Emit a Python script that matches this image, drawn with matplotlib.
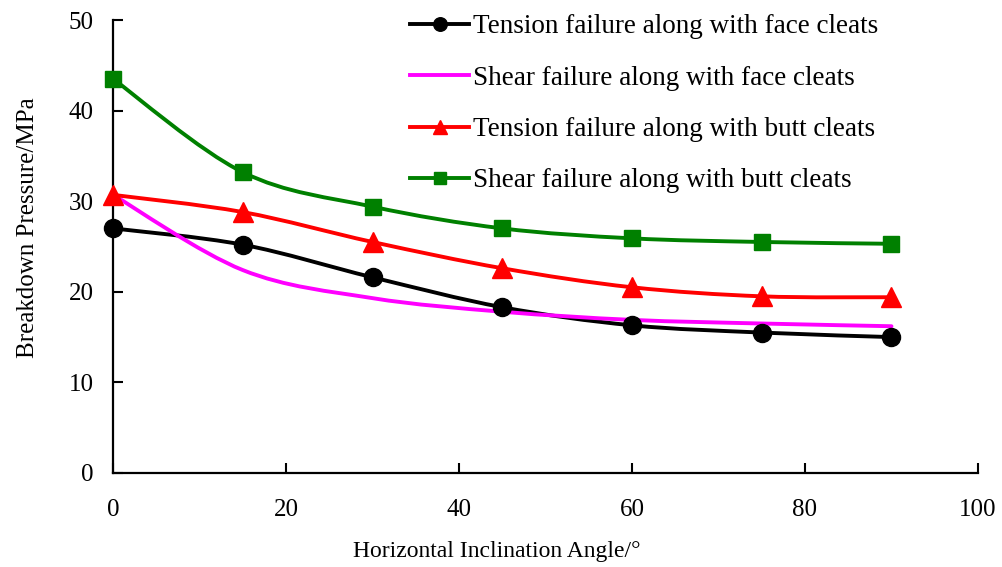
import matplotlib
matplotlib.use("Agg")
import matplotlib.pyplot as plt
from matplotlib.path import Path
from matplotlib.patches import PathPatch
from matplotlib.lines import Line2D

# Horizontal inclination angle (deg)
angle = [0, 15, 30, 45, 60, 75, 90]

# Breakdown pressure (MPa)
tension_face = [27.0, 25.2, 21.6, 18.3, 16.3, 15.5, 15.0]
shear_face = [30.7, 22.4, 19.3, 17.8, 16.9, 16.5, 16.2]
tension_butt = [30.7, 28.8, 25.5, 22.6, 20.5, 19.5, 19.4]
shear_butt = [43.5, 33.2, 29.4, 27.0, 25.9, 25.5, 25.3]

labels = [
    "Tension failure along with face cleats",
    "Shear failure along with face cleats",
    "Tension failure along with butt cleats",
    "Shear failure along with butt cleats",
]

plt.rcParams["font.family"] = ["Liberation Serif", "DejaVu Serif"]


def smooth_path(xs, ys):
    # Excel-like smoothed line: cubic Bezier segments through every point
    verts = [(xs[0], ys[0])]
    codes = [Path.MOVETO]
    n = len(xs)
    for i in range(n - 1):
        x0, y0 = xs[max(i - 1, 0)], ys[max(i - 1, 0)]
        x1, y1 = xs[i], ys[i]
        x2, y2 = xs[i + 1], ys[i + 1]
        x3, y3 = xs[min(i + 2, n - 1)], ys[min(i + 2, n - 1)]
        c1 = (x1 + (x2 - x0) / 6, y1 + (y2 - y0) / 6)
        c2 = (x2 - (x3 - x1) / 6, y2 - (y3 - y1) / 6)
        verts += [c1, c2, (x2, y2)]
        codes += [Path.CURVE4] * 3
    return Path(verts, codes)


fig = plt.figure(figsize=(10.02, 5.67), dpi=100)
ax = fig.add_axes([0.1128, 0.1658, 0.8632, 0.7989])

series = [
    (tension_face, "black", "o", 13),
    (shear_face, "#FF00FF", None, 0),
    (tension_butt, "#FF0000", "^", 14),
    (shear_butt, "#008000", "s", 12),
]

handles = []
for (vals, color, marker, ms), label in zip(series, labels):
    patch = PathPatch(smooth_path(angle, vals), facecolor="none",
                      edgecolor=color, lw=2.8, transform=ax.transData,
                      zorder=2, capstyle="round", joinstyle="round")
    ax.add_patch(patch)
    if marker:
        ax.plot(angle, vals, linestyle="none", marker=marker, ms=ms,
                color=color, zorder=3, clip_on=False)
    handles.append(Line2D([], [], color=color, lw=2.8, marker=marker,
                          ms=ms * 0.75 if marker else 0))

ax.set_xlim(0, 100)
ax.set_ylim(0, 50)
ax.set_xticks(range(0, 101, 20))
ax.set_yticks(range(0, 51, 10))

for side in ["top", "right"]:
    ax.spines[side].set_visible(False)
for side in ["left", "bottom"]:
    ax.spines[side].set_linewidth(1.6)

ax.tick_params(axis="both", direction="in", length=7, width=1.5,
               labelsize=18)
ax.tick_params(axis="x", pad=19)
ax.tick_params(axis="y", pad=14)

ax.set_xlabel("Horizontal Inclination Angle/°", fontsize=17, labelpad=14,
              x=0.444)
ax.set_ylabel("Breakdown Pressure/MPa", fontsize=18, labelpad=21, y=0.542)

ax.legend(handles=handles, labels=labels, loc="upper left",
          bbox_to_anchor=(0.315, 1.066), frameon=False, fontsize=19.5,
          handlelength=2.2, handletextpad=0.12, labelspacing=0.97)

fig.savefig("out.png", dpi=100)
